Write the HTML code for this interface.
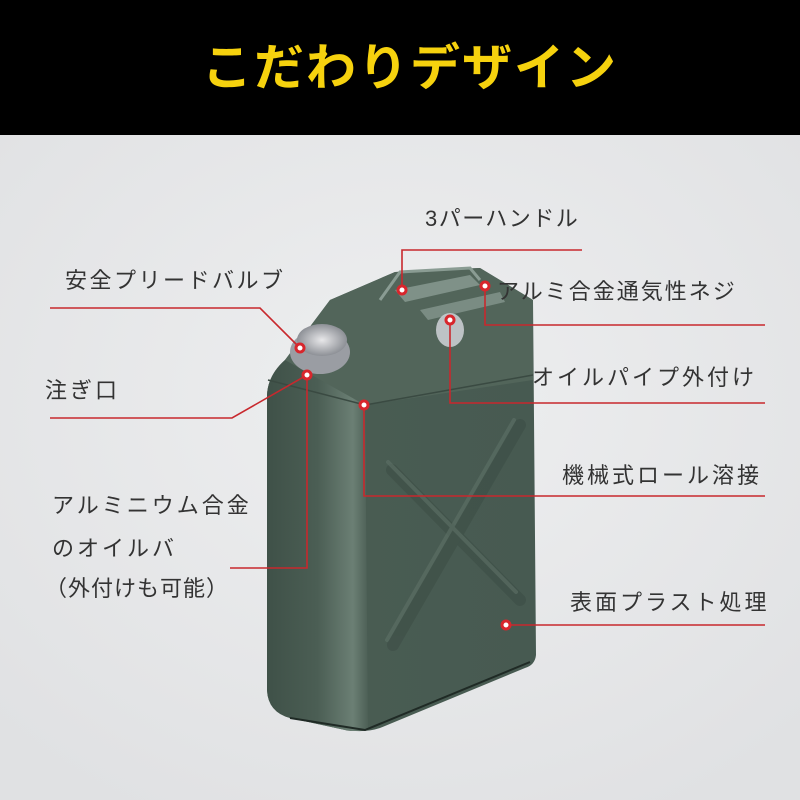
<!DOCTYPE html>
<html><head><meta charset="utf-8"><style>
html,body{margin:0;padding:0;width:800px;height:800px;overflow:hidden;background:#e6e7e9}
svg{display:block}
text{font-family:"Liberation Sans","Noto Sans CJK JP",sans-serif}
</style></head><body>
<svg width="800" height="800" viewBox="0 0 800 800" xmlns="http://www.w3.org/2000/svg">
<defs>
<linearGradient id="side" x1="0" x2="1" y1="0" y2="0">
<stop offset="0" stop-color="#3f5148"/><stop offset="0.5" stop-color="#4b5e54"/><stop offset="0.85" stop-color="#6b7f74"/><stop offset="1" stop-color="#4d6056"/></linearGradient>
<linearGradient id="front" x1="0" x2="1"><stop offset="0" stop-color="#4a5d53"/><stop offset="1" stop-color="#475a51"/></linearGradient>
<radialGradient id="cap"><stop offset="0" stop-color="#e8e8ea"/><stop offset="1" stop-color="#8d9096"/></radialGradient>
<radialGradient id="bg" cx="0.5" cy="0.4" r="0.7"><stop offset="0" stop-color="#eeeff0"/><stop offset="1" stop-color="#e0e1e3"/></radialGradient>
</defs>
<rect x="0" y="135" width="800" height="665" fill="url(#bg)"/>
<rect x="0" y="0" width="800" height="135" fill="#000"/>
<text x="410" y="85" text-anchor="middle" font-size="50" font-weight="bold" fill="#f6d20e" letter-spacing="2">こだわりデザイン</text>

<path d="M267,395 Q268,375 285,360 L330,300 L395,272 L480,268 L533,300 L536,655 Q535,665 525,668 L380,728 Q365,733 345,730 L290,718 Q268,712 267,690 Z" fill="url(#front)"/>
<path d="M267,395 Q268,375 285,360 L310,340 L365,405 L368,730 Q350,732 345,730 L290,718 Q268,712 267,690 Z" fill="url(#side)"/>
<path d="M285,360 L330,300 L395,272 L480,268 L533,300 L533,380 L365,405 Z" fill="#52655a"/>
<path d="M268,380 L365,405 L533,375" stroke="#3a4a42" stroke-width="1.5" fill="none"/>
<path d="M290,718 L365,730 L530,662" stroke="#1f2a25" stroke-width="2" fill="none"/>
<path d="M395,290 L470,275 L480,285 L405,302 Z" fill="#7f9188"/>
<path d="M420,310 L500,292 L505,302 L428,320 Z" fill="#7a8c83"/>
<path d="M380,300 L400,272 L470,268 L480,280" stroke="#8a9c93" stroke-width="3" fill="none"/>
<ellipse cx="450" cy="330" rx="14" ry="17" fill="#c9ccd0" opacity="0.9"/>
<g stroke="#3c4d45" stroke-width="12" stroke-linecap="round" fill="none" opacity="0.55">
<path d="M392,470 L520,600"/><path d="M520,425 L393,645"/></g>
<g stroke="#5e7167" stroke-width="4" stroke-linecap="round" fill="none" opacity="0.6">
<path d="M388,462 L516,592"/><path d="M514,420 L387,640"/></g>
<ellipse cx="320" cy="352" rx="30" ry="22" fill="#9a9da3"/>
<ellipse cx="322" cy="340" rx="25" ry="16" fill="url(#cap)"/>

<g stroke="#c8282d" stroke-width="1.6" fill="none">
<path d="M402,290 L402,250 L582,250"/>
<path d="M50,308 L260,308 L300,348"/>
<path d="M485,286 L485,325 L765,325"/>
<path d="M450,320 L450,403 L765,403"/>
<path d="M50,418 L232,418 L307,375"/>
<path d="M364,405 L364,496 L765,496"/>
<path d="M307,375 L307,568 L230,568"/>
<path d="M506,625 L765,625"/>
</g>
<g fill="#fff" stroke="#d8262c" stroke-width="3">
<circle cx="402" cy="290" r="4"/><circle cx="300" cy="348" r="4"/><circle cx="485" cy="286" r="4"/>
<circle cx="450" cy="320" r="4"/><circle cx="307" cy="375" r="4"/><circle cx="364" cy="405" r="4"/>
<circle cx="506" cy="625" r="4"/></g>

<g font-size="22" fill="#333" letter-spacing="3">
<text x="425" y="226" letter-spacing="1.5">3パーハンドル</text>
<text x="65" y="288" letter-spacing="2.5">安全プリードバルブ</text>
<text x="497" y="299" letter-spacing="2">アルミ合金通気性ネジ</text>
<text x="532" y="385" letter-spacing="3">オイルパイプ外付け</text>
<text x="45" y="398">注ぎ口</text>
<text x="562" y="483">機械式ロール溶接</text>
<text x="52" y="513">アルミニウム合金</text>
<text x="52" y="556">のオイルバ</text>
<text x="45" y="596" letter-spacing="1">（外付けも可能）</text>
<text x="570" y="610">表面プラスト処理</text>
</g>
</svg>
</body></html>
